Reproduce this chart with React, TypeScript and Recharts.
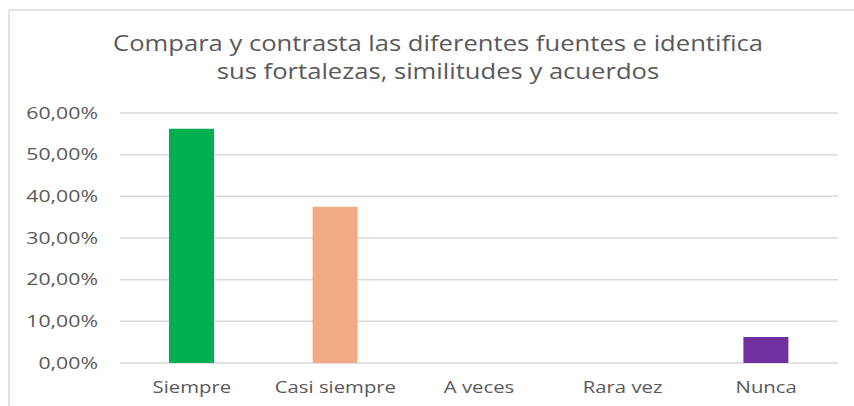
import React from "react";
import { BarChart, Bar, XAxis, YAxis, CartesianGrid, Cell } from "recharts";

const categories = ["Siempre", "Casi siempre", "A veces", "Rara vez", "Nunca"];
const values = [56.25, 37.5, 0, 0, 6.25];
const colors = ["#00B050", "#F2AA84", "#00B0F0", "#FFC000", "#7030A0"];
const yTicks = [0, 10, 20, 30, 40, 50, 60];
const titleLines = [
  "Compara y contrasta las diferentes fuentes e identifica",
  "sus fortalezas, similitudes y acuerdos",
];

const data = categories.map((c, i) => ({ name: c, value: values[i] }));

const FONT = "'Open Sans', sans-serif";
const TEXT = "#595959";

const fmtPct = (v: number) => `${v.toFixed(2).replace(".", ",")}%`;

const Tick = (props: any) => {
  const { x, y, payload, anchor, sx, fs, fmt } = props;
  return (
    <g transform={`translate(${x},${y}) scale(${sx},1)`}>
      <text x={0} y={0} dy="0.35em" textAnchor={anchor} fill={TEXT} fontSize={fs} fontFamily={FONT}>
        {fmt ? fmt(payload.value) : payload.value}
      </text>
    </g>
  );
};

export default function App() {
  return (
    <div style={{ position: "absolute", left: 0, top: 0, width: 854, height: 406, background: "#fff" }}>
      <BarChart
        width={854}
        height={406}
        data={data}
        margin={{ top: 113, right: 16, bottom: 13, left: 0 }}
        barSize={45}
      >
        <CartesianGrid vertical={false} stroke="#D9D9D9" strokeWidth={1.5} />
        <XAxis
          dataKey="name"
          height={30}
          axisLine={false}
          tickLine={false}
          tickSize={0}
          tickMargin={24}
          interval={0}
          tick={(p: any) => <Tick {...p} anchor="middle" sx={1.27} fs={16} />}
        />
        <YAxis
          width={120}
          domain={[0, 60]}
          ticks={yTicks}
          axisLine={false}
          tickLine={false}
          tickSize={0}
          tickMargin={22}
          tick={(p: any) => <Tick {...p} anchor="end" sx={1.33} fs={16} fmt={fmtPct} />}
        />
        <Bar dataKey="value" isAnimationActive={false}>
          {data.map((d, i) => (
            <Cell key={d.name} fill={colors[i]} />
          ))}
        </Bar>
      </BarChart>
      <svg
        width={854}
        height={406}
        style={{ position: "absolute", left: 0, top: 0, pointerEvents: "none" }}
      >
        <line x1={9} y1={10} x2={854} y2={10} stroke="#D9D9D9" strokeWidth={1.5} />
        <line x1={9} y1={10} x2={9} y2={406} stroke="#D9D9D9" strokeWidth={1.5} />
        {titleLines.map((t, i) => (
          <g key={i} transform={`translate(438,${44 + i * 28}) scale(1.22,1)`}>
            <text x={0} y={0} dy="0.35em" textAnchor="middle" fill={TEXT} fontSize={21} fontFamily={FONT}>
              {t}
            </text>
          </g>
        ))}
      </svg>
    </div>
  );
}
